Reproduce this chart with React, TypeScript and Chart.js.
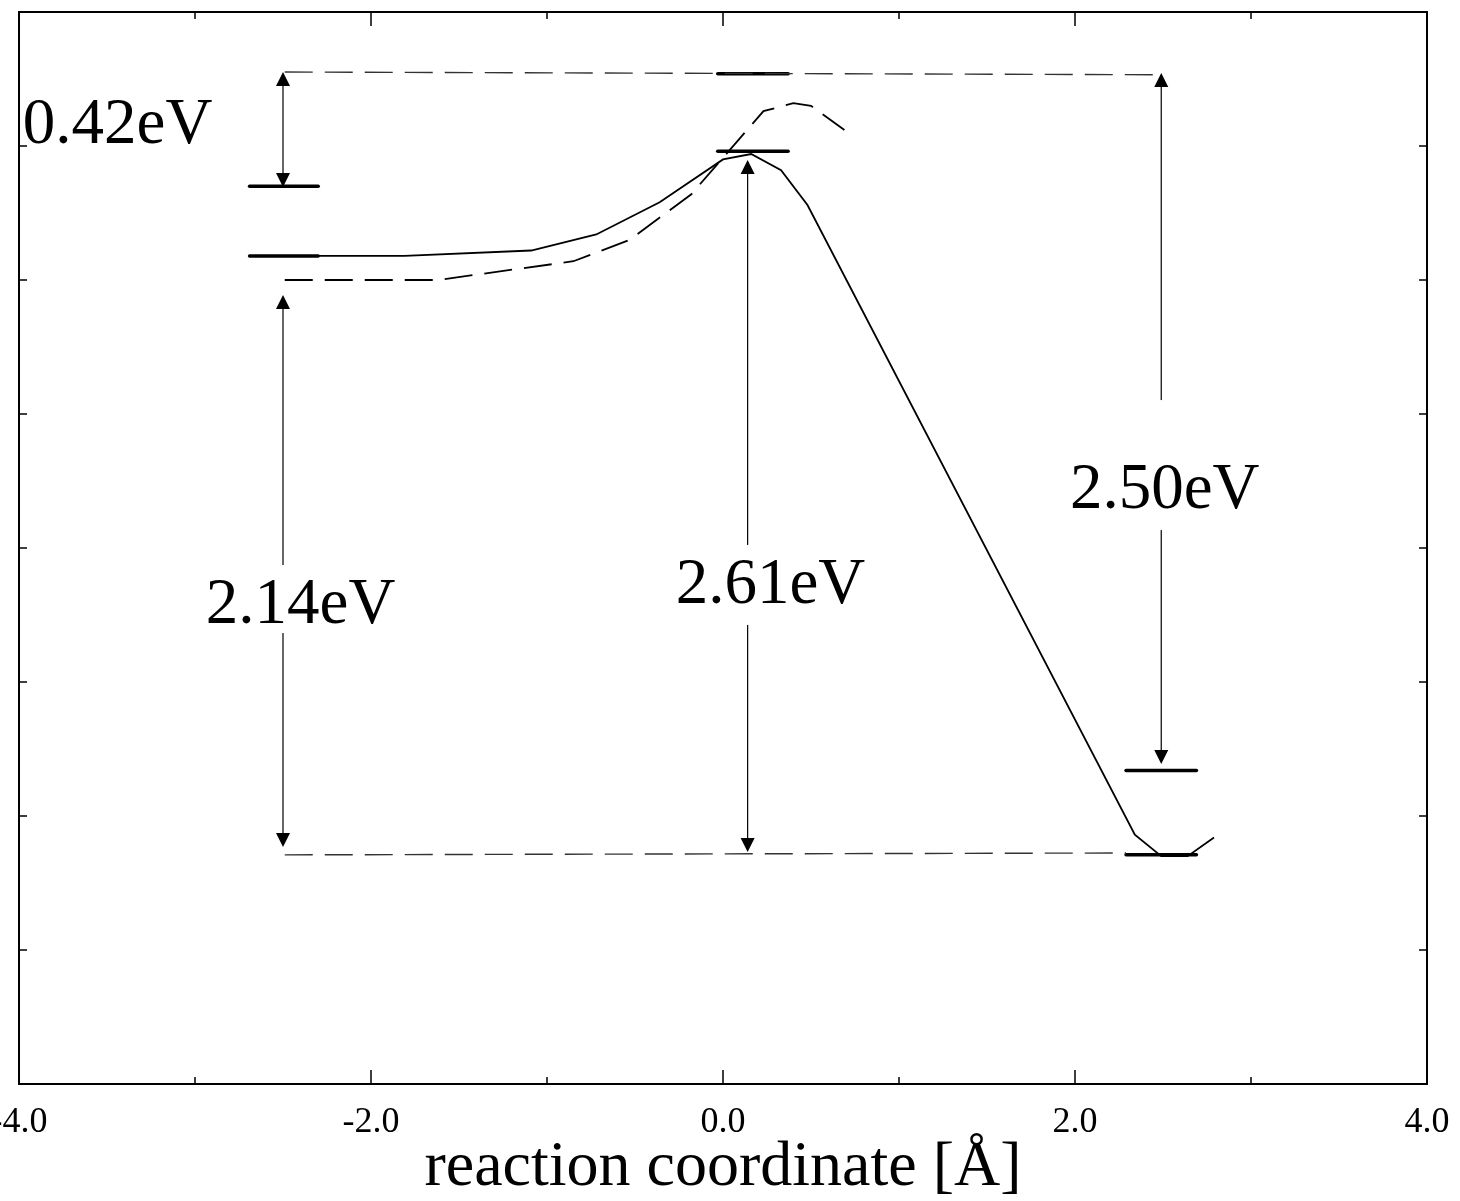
import React, { useEffect, useRef } from "react";
import { Chart, registerables } from "chart.js";

Chart.register(...registerables);

// Solid curve (reaction path 1)
const solidX = [-2.49, -1.81, -1.09, -0.72, -0.36, 0.0, 0.16, 0.33, 0.48, 2.34, 2.49, 2.64, 2.79];
const solidY = [3.09, 3.09, 3.11, 3.17, 3.29, 3.45, 3.47, 3.41, 3.28, 0.93, 0.85, 0.85, 0.92];

// Dashed curve (reaction path 2)
const dashedX = [-2.49, -1.62, -0.85, -0.53, -0.18, 0.23, 0.40, 0.50, 0.69];
const dashedY = [3.0, 3.0, 3.07, 3.15, 3.32, 3.63, 3.66, 3.65, 3.56];

// Energy level bars
const levelX1 = [-2.69, -2.69, -0.03, -0.03, 2.29, 2.29];
const levelX2 = [-2.3, -2.3, 0.37, 0.37, 2.69, 2.69];
const levelY = [3.35, 3.09, 3.77, 3.48, 1.17, 0.855];

// Reference dashed lines
const refX1 = [-2.49, -2.49];
const refX2 = [2.45, 2.29];
const refY1 = [3.776, 0.855];
const refY2 = [3.766, 0.862];

// Double-headed arrows
const arrowX = [-2.5, -2.5, 0.14, 2.49];
const arrowTop = [3.776, 2.944, 3.448, 3.772];
const arrowBottom = [3.347, 0.884, 0.866, 1.194];

// Energy labels
const labelText = ["0.42eV", "2.14eV", "2.61eV", "2.50eV"];
const labelX = [-3.44, -2.4, 0.27, 2.51];
const labelY = [3.511, 1.72, 1.795, 2.149];
const labelGapAbove = [0, 58, 58, 108];
const labelGapBelow = [0, 10, 22, 22];

// Axis
const xTickValues = [-4, -3, -2, -1, 0, 1, 2, 3, 4];
const xTickLabels = ["-4.0", "", "-2.0", "", "0.0", "", "2.0", "", "4.0"];
const yTickValues = [0.5, 1.0, 1.5, 2.0, 2.5, 3.0, 3.5];
const xTitle = "reaction coordinate [Å]";

const SERIF = '"Liberation Serif", "Times New Roman", Times, serif';

const pts = (xs: number[], ys: number[]) => xs.map((x, i) => ({ x, y: ys[i] }));

export default function App() {
  const ref = useRef<HTMLCanvasElement | null>(null);

  useEffect(() => {
    document.body.style.margin = "0";
    const canvas = ref.current;
    if (!canvas) return;

    const datasets: any[] = [];
    for (let i = 0; i < refX1.length; i++) {
      datasets.push({
        data: [
          { x: refX1[i], y: refY1[i] },
          { x: refX2[i], y: refY2[i] },
        ],
        showLine: true,
        borderColor: "#333",
        borderWidth: 1.4,
        borderDash: [28, 12],
        pointRadius: 0,
      });
    }
    datasets.push({
      data: pts(dashedX, dashedY),
      showLine: true,
      borderColor: "#000",
      borderWidth: 1.8,
      borderDash: [28, 12],
      pointRadius: 0,
      tension: 0,
    });
    datasets.push({
      data: pts(solidX, solidY),
      showLine: true,
      borderColor: "#000",
      borderWidth: 1.8,
      pointRadius: 0,
      tension: 0,
    });
    for (let i = 0; i < levelY.length; i++) {
      datasets.push({
        data: [
          { x: levelX1[i], y: levelY[i] },
          { x: levelX2[i], y: levelY[i] },
        ],
        showLine: true,
        borderColor: "#000",
        borderWidth: 3.5,
        borderCapStyle: "round",
        pointRadius: 0,
      });
    }

    const decor = {
      id: "decor",
      afterDatasetsDraw(chart: any) {
        const ctx = chart.ctx as CanvasRenderingContext2D;
        const xs = chart.scales.x;
        const ys = chart.scales.y;
        ctx.save();
        ctx.strokeStyle = "#000";
        ctx.fillStyle = "#000";
        ctx.lineWidth = 1.2;
        const hw = 7;
        const hh = 14;
        for (let i = 0; i < arrowX.length; i++) {
          const px = xs.getPixelForValue(arrowX[i]);
          const t = ys.getPixelForValue(arrowTop[i]);
          const b = ys.getPixelForValue(arrowBottom[i]);
          ctx.beginPath();
          ctx.moveTo(px, t + hh - 1);
          ctx.lineTo(px, b - hh + 1);
          ctx.stroke();
          ctx.beginPath();
          ctx.moveTo(px, t);
          ctx.lineTo(px - hw, t + hh);
          ctx.lineTo(px + hw, t + hh);
          ctx.closePath();
          ctx.fill();
          ctx.beginPath();
          ctx.moveTo(px, b);
          ctx.lineTo(px - hw, b - hh);
          ctx.lineTo(px + hw, b - hh);
          ctx.closePath();
          ctx.fill();
        }
        ctx.font = `65px ${SERIF}`;
        ctx.textAlign = "center";
        ctx.textBaseline = "alphabetic";
        for (let i = 0; i < labelText.length; i++) {
          const px = xs.getPixelForValue(labelX[i]);
          const py = ys.getPixelForValue(labelY[i]);
          const w = ctx.measureText(labelText[i]).width;
          if (labelGapAbove[i] > 0) {
            ctx.fillStyle = "#fff";
            ctx.fillRect(px - w / 2 - 4, py - labelGapAbove[i], w + 8, labelGapAbove[i] + labelGapBelow[i]);
          }
          ctx.fillStyle = "#000";
          ctx.fillText(labelText[i], px, py);
        }
        ctx.restore();
      },
      afterDraw(chart: any) {
        const ctx = chart.ctx as CanvasRenderingContext2D;
        const { left, right, top, bottom } = chart.chartArea;
        const xs = chart.scales.x;
        const ys = chart.scales.y;
        ctx.save();
        ctx.strokeStyle = "#000";
        ctx.lineWidth = 2;
        ctx.strokeRect(left, top, right - left, bottom - top);
        ctx.lineWidth = 1.5;
        ctx.beginPath();
        xTickValues.forEach((v, i) => {
          if (v === -4 || v === 4) return;
          const px = xs.getPixelForValue(v);
          const len = i % 2 === 0 ? 14 : 7;
          ctx.moveTo(px, bottom);
          ctx.lineTo(px, bottom - len);
          ctx.moveTo(px, top);
          ctx.lineTo(px, top + len);
        });
        yTickValues.forEach((v) => {
          const py = ys.getPixelForValue(v);
          ctx.moveTo(left, py);
          ctx.lineTo(left + 8, py);
          ctx.moveTo(right, py);
          ctx.lineTo(right - 8, py);
        });
        ctx.stroke();
        ctx.fillStyle = "#000";
        ctx.font = `36px ${SERIF}`;
        ctx.textAlign = "center";
        ctx.textBaseline = "alphabetic";
        xTickValues.forEach((v, i) => {
          if (!xTickLabels[i]) return;
          ctx.fillText(xTickLabels[i], xs.getPixelForValue(v), bottom + 48);
        });
        ctx.font = `64px ${SERIF}`;
        ctx.fillText(xTitle, xs.getPixelForValue(0), bottom + 101);
        ctx.restore();
      },
    };

    const chart = new Chart(canvas, {
      type: "scatter",
      data: { datasets },
      options: {
        animation: false,
        responsive: false,
        devicePixelRatio: 1,
        layout: { padding: { left: 19, right: 33, top: 12, bottom: 117 } },
        plugins: { legend: { display: false }, tooltip: { enabled: false } },
        scales: {
          x: { type: "linear", min: -4, max: 4, display: false },
          y: { type: "linear", min: 0, max: 4, display: false },
        },
      },
      plugins: [decor],
    } as any);

    return () => chart.destroy();
  }, []);

  return (
    <div style={{ position: "absolute", left: 0, top: 0, width: 1460, height: 1201, background: "#fff" }}>
      <canvas ref={ref} width={1460} height={1201} style={{ width: 1460, height: 1201 }} />
    </div>
  );
}
